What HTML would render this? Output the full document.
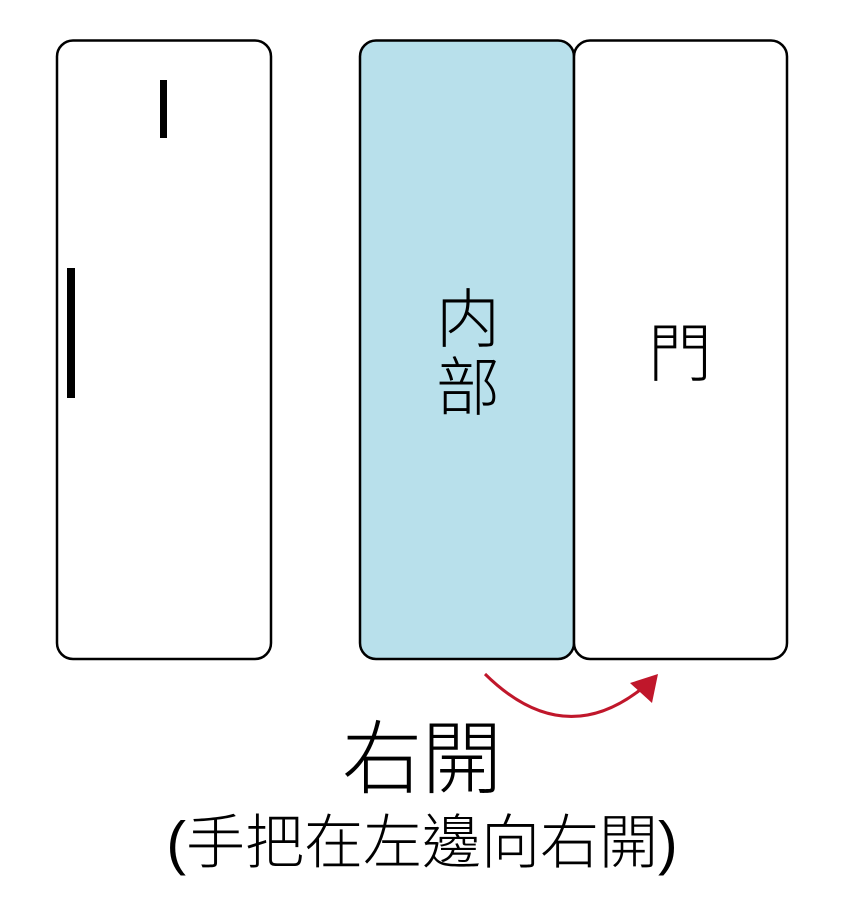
<!DOCTYPE html>
<html><head><meta charset="utf-8"><style>
body{margin:0;background:#fff;width:847px;height:893px;overflow:hidden}
</style></head><body>
<svg width="847" height="893" viewBox="0 0 847 893" xmlns="http://www.w3.org/2000/svg">
<rect x="57" y="40.5" width="214" height="618.5" rx="16" fill="#fff" stroke="#000" stroke-width="2.5"/>
<rect x="160" y="80" width="7" height="58" fill="#000"/>
<rect x="67" y="268" width="8" height="130" fill="#000"/>
<rect x="360" y="40.5" width="214" height="618.5" rx="16" fill="#b8e0eb" stroke="#000" stroke-width="2.5"/>
<rect x="574" y="40.5" width="213" height="618.5" rx="16" fill="#fff" stroke="#000" stroke-width="2.5"/>
<text x="468" y="342" font-size="64" text-anchor="middle" font-family="Noto Sans CJK TC, sans-serif" font-weight="300">内</text>
<text x="468" y="410" font-size="64" text-anchor="middle" font-family="Noto Sans CJK TC, sans-serif" font-weight="300">部</text>
<text x="680" y="376" font-size="64" text-anchor="middle" font-family="Noto Sans CJK TC, sans-serif" font-weight="300">門</text>
<path d="M485 674 Q562 750 640 690" fill="none" stroke="#c0172b" stroke-width="3"/>
<polygon points="658,674 630,683 652,703" fill="#c0172b"/>
<text x="422" y="787" font-size="80" text-anchor="middle" font-family="Noto Sans CJK TC, sans-serif" font-weight="300">右開</text>
<text x="422" y="863" font-size="59" text-anchor="middle" font-family="Liberation Sans, Noto Sans CJK TC, sans-serif" font-weight="300">(手把在左邊向右開)</text>
</svg>
</body></html>
